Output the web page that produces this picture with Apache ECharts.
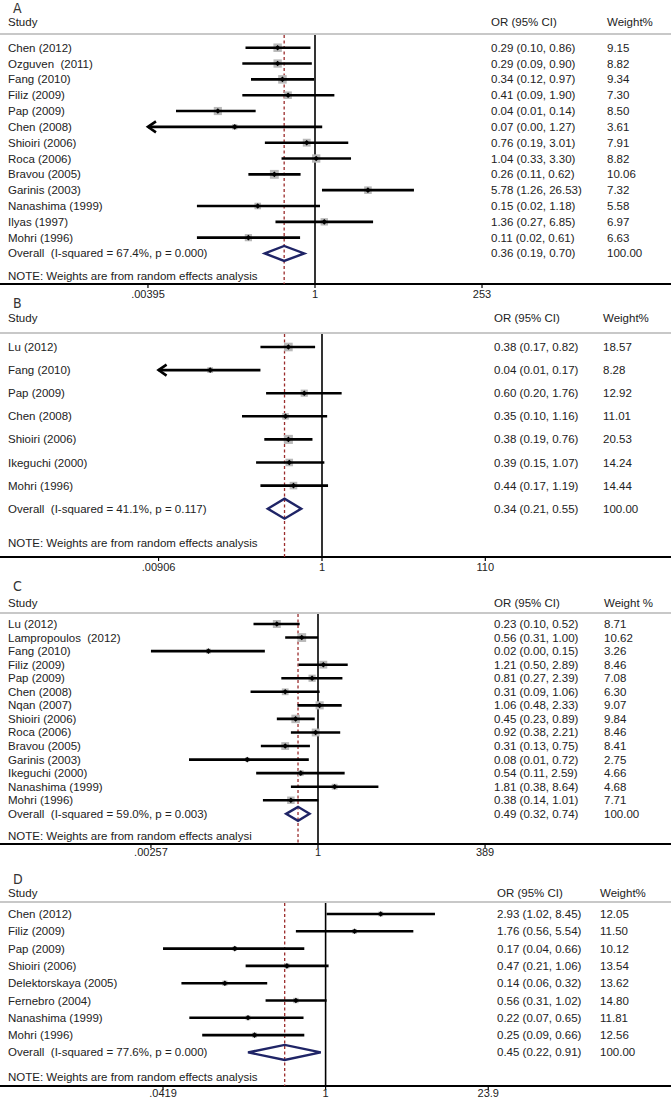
<!DOCTYPE html>
<html>
<head>
<meta charset="utf-8">
<script src="https://cdn.jsdelivr.net/npm/echarts@6/dist/echarts.min.js"></script>
<style>html,body{margin:0;padding:0;background:#fff}#chart{width:671px;height:1099px}</style>
</head>
<body>
<div id="chart"></div>
<script>
// ---------- Panel A ----------
const studiesA = ['Chen (2012)', 'Ozguven  (2011)', 'Fang (2010)', 'Filiz (2009)', 'Pap (2009)', 'Chen (2008)', 'Shioiri (2006)', 'Roca (2006)', 'Bravou (2005)', 'Garinis (2003)', 'Nanashima (1999)', 'Ilyas (1997)', 'Mohri (1996)'];
const orA = [0.29, 0.29, 0.34, 0.41, 0.04, 0.07, 0.76, 1.04, 0.26, 5.78, 0.15, 1.36, 0.11];
const loA = [0.10, 0.09, 0.12, 0.09, 0.01, 0.003, 0.19, 0.33, 0.11, 1.26, 0.02, 0.27, 0.02];
const hiA = [0.86, 0.90, 0.97, 1.90, 0.14, 1.27, 3.01, 3.30, 0.62, 26.53, 1.18, 6.85, 0.61];
const weightA = [9.15, 8.82, 9.34, 7.30, 8.50, 3.61, 7.91, 8.82, 10.06, 7.32, 5.58, 6.97, 6.63];
const overallLabelA = 'Overall  (I-squared = 67.4%, p = 0.000)';
const overallA = [0.36, 0.19, 0.70, 100.00];
const ticksA = [0.00395, 1, 253];
const tickLabelsA = ['.00395', '1', '253'];
const headersA = ['A', 'Study', 'OR (95% CI)', 'Weight%'];
const noteA = 'NOTE: Weights are from random effects analysis';

// ---------- Panel B ----------
const studiesB = ['Lu (2012)', 'Fang (2010)', 'Pap (2009)', 'Chen (2008)', 'Shioiri (2006)', 'Ikeguchi (2000)', 'Mohri (1996)'];
const orB = [0.38, 0.04, 0.60, 0.35, 0.38, 0.39, 0.44];
const loB = [0.17, 0.008, 0.20, 0.10, 0.19, 0.15, 0.17];
const hiB = [0.82, 0.17, 1.76, 1.16, 0.76, 1.07, 1.19];
const weightB = [18.57, 8.28, 12.92, 11.01, 20.53, 14.24, 14.44];
const overallLabelB = 'Overall  (I-squared = 41.1%, p = 0.117)';
const overallB = [0.34, 0.21, 0.55, 100.00];
const ticksB = [0.00906, 1, 110];
const tickLabelsB = ['.00906', '1', '110'];
const headersB = ['B', 'Study', 'OR (95% CI)', 'Weight%'];
const noteB = 'NOTE: Weights are from random effects analysis';

// ---------- Panel C ----------
const studiesC = ['Lu (2012)', 'Lampropoulos  (2012)', 'Fang (2010)', 'Filiz (2009)', 'Pap (2009)', 'Chen (2008)', 'Nqan (2007)', 'Shioiri (2006)', 'Roca (2006)', 'Bravou (2005)', 'Garinis (2003)', 'Ikeguchi (2000)', 'Nanashima (1999)', 'Mohri (1996)'];
const orC = [0.23, 0.56, 0.02, 1.21, 0.81, 0.31, 1.06, 0.45, 0.92, 0.31, 0.08, 0.54, 1.81, 0.38];
const loC = [0.10, 0.31, 0.00257, 0.50, 0.27, 0.09, 0.48, 0.23, 0.38, 0.13, 0.01, 0.11, 0.38, 0.14];
const hiC = [0.52, 1.00, 0.15, 2.89, 2.39, 1.06, 2.33, 0.89, 2.21, 0.75, 0.72, 2.59, 8.64, 1.01];
const weightC = [8.71, 10.62, 3.26, 8.46, 7.08, 6.30, 9.07, 9.84, 8.46, 8.41, 2.75, 4.66, 4.68, 7.71];
const overallLabelC = 'Overall  (I-squared = 59.0%, p = 0.003)';
const overallC = [0.49, 0.32, 0.74, 100.00];
const ticksC = [0.00257, 1, 389];
const tickLabelsC = ['.00257', '1', '389'];
const headersC = ['C', 'Study', 'OR (95% CI)', 'Weight %'];
const noteC = 'NOTE: Weights are from random effects analysi';

// ---------- Panel D ----------
const studiesD = ['Chen (2012)', 'Filiz (2009)', 'Pap (2009)', 'Shioiri (2006)', 'Delektorskaya (2005)', 'Fernebro (2004)', 'Nanashima (1999)', 'Mohri (1996)'];
const orD = [2.93, 1.76, 0.17, 0.47, 0.14, 0.56, 0.22, 0.25];
const loD = [1.02, 0.56, 0.0419, 0.21, 0.06, 0.31, 0.07, 0.09];
const hiD = [8.45, 5.54, 0.66, 1.06, 0.32, 1.02, 0.65, 0.66];
const weightD = [12.05, 11.50, 10.12, 13.54, 13.62, 14.80, 11.81, 12.56];
const overallLabelD = 'Overall  (I-squared = 77.6%, p = 0.000)';
const overallD = [0.45, 0.22, 0.91, 100.00];
const ticksD = [0.0419, 1, 23.9];
const tickLabelsD = ['.0419', '1', '23.9'];
const headersD = ['D', 'Study', 'OR (95% CI)', 'Weight%'];
const noteD = 'NOTE: Weights are from random effects analysis';

// ---------- layout (pixels) ----------
const W = 671;
const layouts = [
  {top: 0,   axisPx: 284,  y0: 47.7, rowH: 15.83, x1: 315,   ppd: 69.5, orX: 491, wX: 607, letterY: 8,   studyY: 22,  grayY: 34,  noteY: 276,  tickDy: 10, boxK: 2.8, dH: 7.5},
  {top: 296, axisPx: 557,  y0: 347,  rowH: 23.1,  x1: 322,   ppd: 80,   orX: 494, wX: 603, letterY: 303, studyY: 318, grayY: 333, noteY: 543,  tickDy: 10, boxK: 2.0, dH: 10},
  {top: 574, axisPx: 844,  y0: 624,  rowH: 13.56, x1: 318,   ppd: 64.5, orX: 494, wX: 604, letterY: 586, studyY: 603, grayY: 613, noteY: 836,  tickDy: 8,  boxK: 2.7, dH: 7},
  {top: 872, axisPx: 1086, y0: 914,  rowH: 17.3,  x1: 325.6, ppd: 118,  orX: 497, wX: 600, letterY: 879, studyY: 893, grayY: 902, noteY: 1077, tickDy: 7,  boxK: 1.4, dH: 7.5}
];

const panels = [
  {names: studiesA, or: orA, lo: loA, hi: hiA, w: weightA, overall: overallA, overallLabel: overallLabelA, ticks: ticksA, tickLabels: tickLabelsA, headers: headersA, note: noteA},
  {names: studiesB, or: orB, lo: loB, hi: hiB, w: weightB, overall: overallB, overallLabel: overallLabelB, ticks: ticksB, tickLabels: tickLabelsB, headers: headersB, note: noteB},
  {names: studiesC, or: orC, lo: loC, hi: hiC, w: weightC, overall: overallC, overallLabel: overallLabelC, ticks: ticksC, tickLabels: tickLabelsC, headers: headersC, note: noteC},
  {names: studiesD, or: orD, lo: loD, hi: hiD, w: weightD, overall: overallD, overallLabel: overallLabelD, ticks: ticksD, tickLabels: tickLabelsD, headers: headersD, note: noteD}
];

const FONT = '"Liberation Sans", Arial, Helvetica, sans-serif';
const FS = '11.5px ';
const TXT = '#222';
const fmt = v => v.toFixed(2);
const ciText = (o, l, h) => fmt(o) + ' (' + fmt(l) + ', ' + fmt(h) + ')';

function txt(text, x, y, opts) {
  return {type: 'text', x: x, y: y, style: Object.assign({text: text, fill: TXT, font: FS + FONT, align: 'left', verticalAlign: 'middle'}, opts || {})};
}

const grids = [], xAxes = [], yAxes = [], series = [];

panels.forEach((p, i) => {
  const L = layouts[i];
  const tmin = p.ticks[0], tmax = p.ticks[p.ticks.length - 1];
  grids.push({left: 0, width: W, top: L.top, height: L.axisPx - L.top});
  xAxes.push({
    gridIndex: i, type: 'log', logBase: 10,
    min: Math.pow(10, -L.x1 / L.ppd), max: Math.pow(10, (W - L.x1) / L.ppd),
    axisLine: {show: true, onZero: false, lineStyle: {color: '#000', width: 2}},
    axisTick: {show: false}, axisLabel: {show: false}, splitLine: {show: false}
  });
  yAxes.push({gridIndex: i, type: 'value', inverse: true, show: false,
    min: (L.top - L.y0) / L.rowH, max: (L.axisPx - L.y0) / L.rowH});

  // frame: header texts, gray rule, reference lines, ticks, note
  series.push({
    type: 'custom', xAxisIndex: i, yAxisIndex: i, silent: true, z: 1,
    data: [[p.overall[0], p.names.length]],
    renderItem: (params, api) => {
      const x1 = api.coord([1, 0])[0];
      const xo = api.coord([p.overall[0], 0])[0];
      const ch = [
        {type: 'line', shape: {x1: 0, y1: L.grayY, x2: W, y2: L.grayY}, style: {stroke: '#c8c8c8', lineWidth: 2}},
        {type: 'line', shape: {x1: x1, y1: L.grayY + 1, x2: x1, y2: L.axisPx}, style: {stroke: '#000', lineWidth: 1.6}},
        {type: 'line', shape: {x1: xo, y1: L.grayY + 1, x2: xo, y2: L.axisPx}, style: {stroke: '#9b2c2c', lineWidth: 1.3, lineDash: [3, 2.5]}},
        txt(p.headers[0], 13, L.letterY, {font: '14px "Liberation Sans Narrow", "DejaVu Sans Condensed", sans-serif', fill: '#333'}),
        txt(p.headers[1], 8, L.studyY),
        txt(p.headers[2], L.orX, L.studyY),
        txt(p.headers[3], L.wX, L.studyY),
        txt(p.note, 8, L.noteY)
      ];
      p.ticks.forEach((t, k) => {
        const tx = api.coord([t, 0])[0];
        ch.push({type: 'line', shape: {x1: tx, y1: L.axisPx, x2: tx, y2: L.axisPx + 4}, style: {stroke: '#000', lineWidth: 1.2}});
        ch.push(txt(p.tickLabels[k], tx, L.axisPx + L.tickDy, {align: 'center', font: '11px ' + FONT}));
      });
      return {type: 'group', children: ch};
    }
  });

  // study rows
  series.push({
    type: 'custom', xAxisIndex: i, yAxisIndex: i, silent: true, z: 3,
    data: p.names.map((n, k) => [p.or[k], k, p.lo[k], p.hi[k], p.w[k]]),
    renderItem: (params, api) => {
      const k = params.dataIndex;
      const o = api.value(0), row = api.value(1), lo = api.value(2), hi = api.value(3), w = api.value(4);
      const y = api.coord([o, row])[1];
      const xo = api.coord([o, row])[0];
      const xl = api.coord([Math.max(lo, tmin), row])[0];
      const xh = api.coord([Math.min(hi, tmax), row])[0];
      const s = L.boxK * Math.sqrt(w);
      const ch = [
        {type: 'rect', shape: {x: xo - s / 2, y: y - s / 2, width: s, height: s}, style: {fill: '#b9b9b9'}},
        {type: 'line', shape: {x1: xl, y1: y, x2: xh, y2: y}, style: {stroke: '#000', lineWidth: 2.6}},
        {type: 'polygon', shape: {points: [[xo - 2.8, y], [xo, y - 2.8], [xo + 2.8, y], [xo, y + 2.8]]}, style: {fill: '#000'}}
      ];
      if (lo < tmin) ch.push({type: 'polyline', shape: {points: [[xl + 8, y - 5.5], [xl, y], [xl + 8, y + 5.5]]}, style: {stroke: '#000', lineWidth: 2.6, fill: null}});
      if (hi > tmax) ch.push({type: 'polyline', shape: {points: [[xh - 8, y - 5.5], [xh, y], [xh - 8, y + 5.5]]}, style: {stroke: '#000', lineWidth: 2.6, fill: null}});
      ch.push(txt(p.names[k], 8, y));
      ch.push(txt(ciText(p.or[k], p.lo[k], p.hi[k]), L.orX, y));
      ch.push(txt(fmt(p.w[k]), L.wX, y));
      return {type: 'group', children: ch};
    }
  });

  // overall diamond
  series.push({
    type: 'custom', xAxisIndex: i, yAxisIndex: i, silent: true, z: 4,
    data: [[p.overall[0], p.names.length, p.overall[1], p.overall[2], p.overall[3]]],
    renderItem: (params, api) => {
      const o = api.value(0), row = api.value(1), lo = api.value(2), hi = api.value(3), w = api.value(4);
      const y = api.coord([o, row])[1];
      const xo = api.coord([o, row])[0];
      const xl = api.coord([lo, row])[0];
      const xh = api.coord([hi, row])[0];
      return {type: 'group', children: [
        {type: 'polygon', shape: {points: [[xl, y], [xo, y - L.dH], [xh, y], [xo, y + L.dH]]}, style: {fill: null, stroke: '#1f2466', lineWidth: 2.4}},
        txt(p.overallLabel, 8, y),
        txt(ciText(o, lo, hi), L.orX, y),
        txt(fmt(w), L.wX, y)
      ]};
    }
  });
});

const chart = echarts.init(document.getElementById('chart'), null, {renderer: 'svg'});
chart.setOption({
  animation: false,
  backgroundColor: '#fff',
  grid: grids,
  xAxis: xAxes,
  yAxis: yAxes,
  series: series
});
</script>
</body>
</html>
